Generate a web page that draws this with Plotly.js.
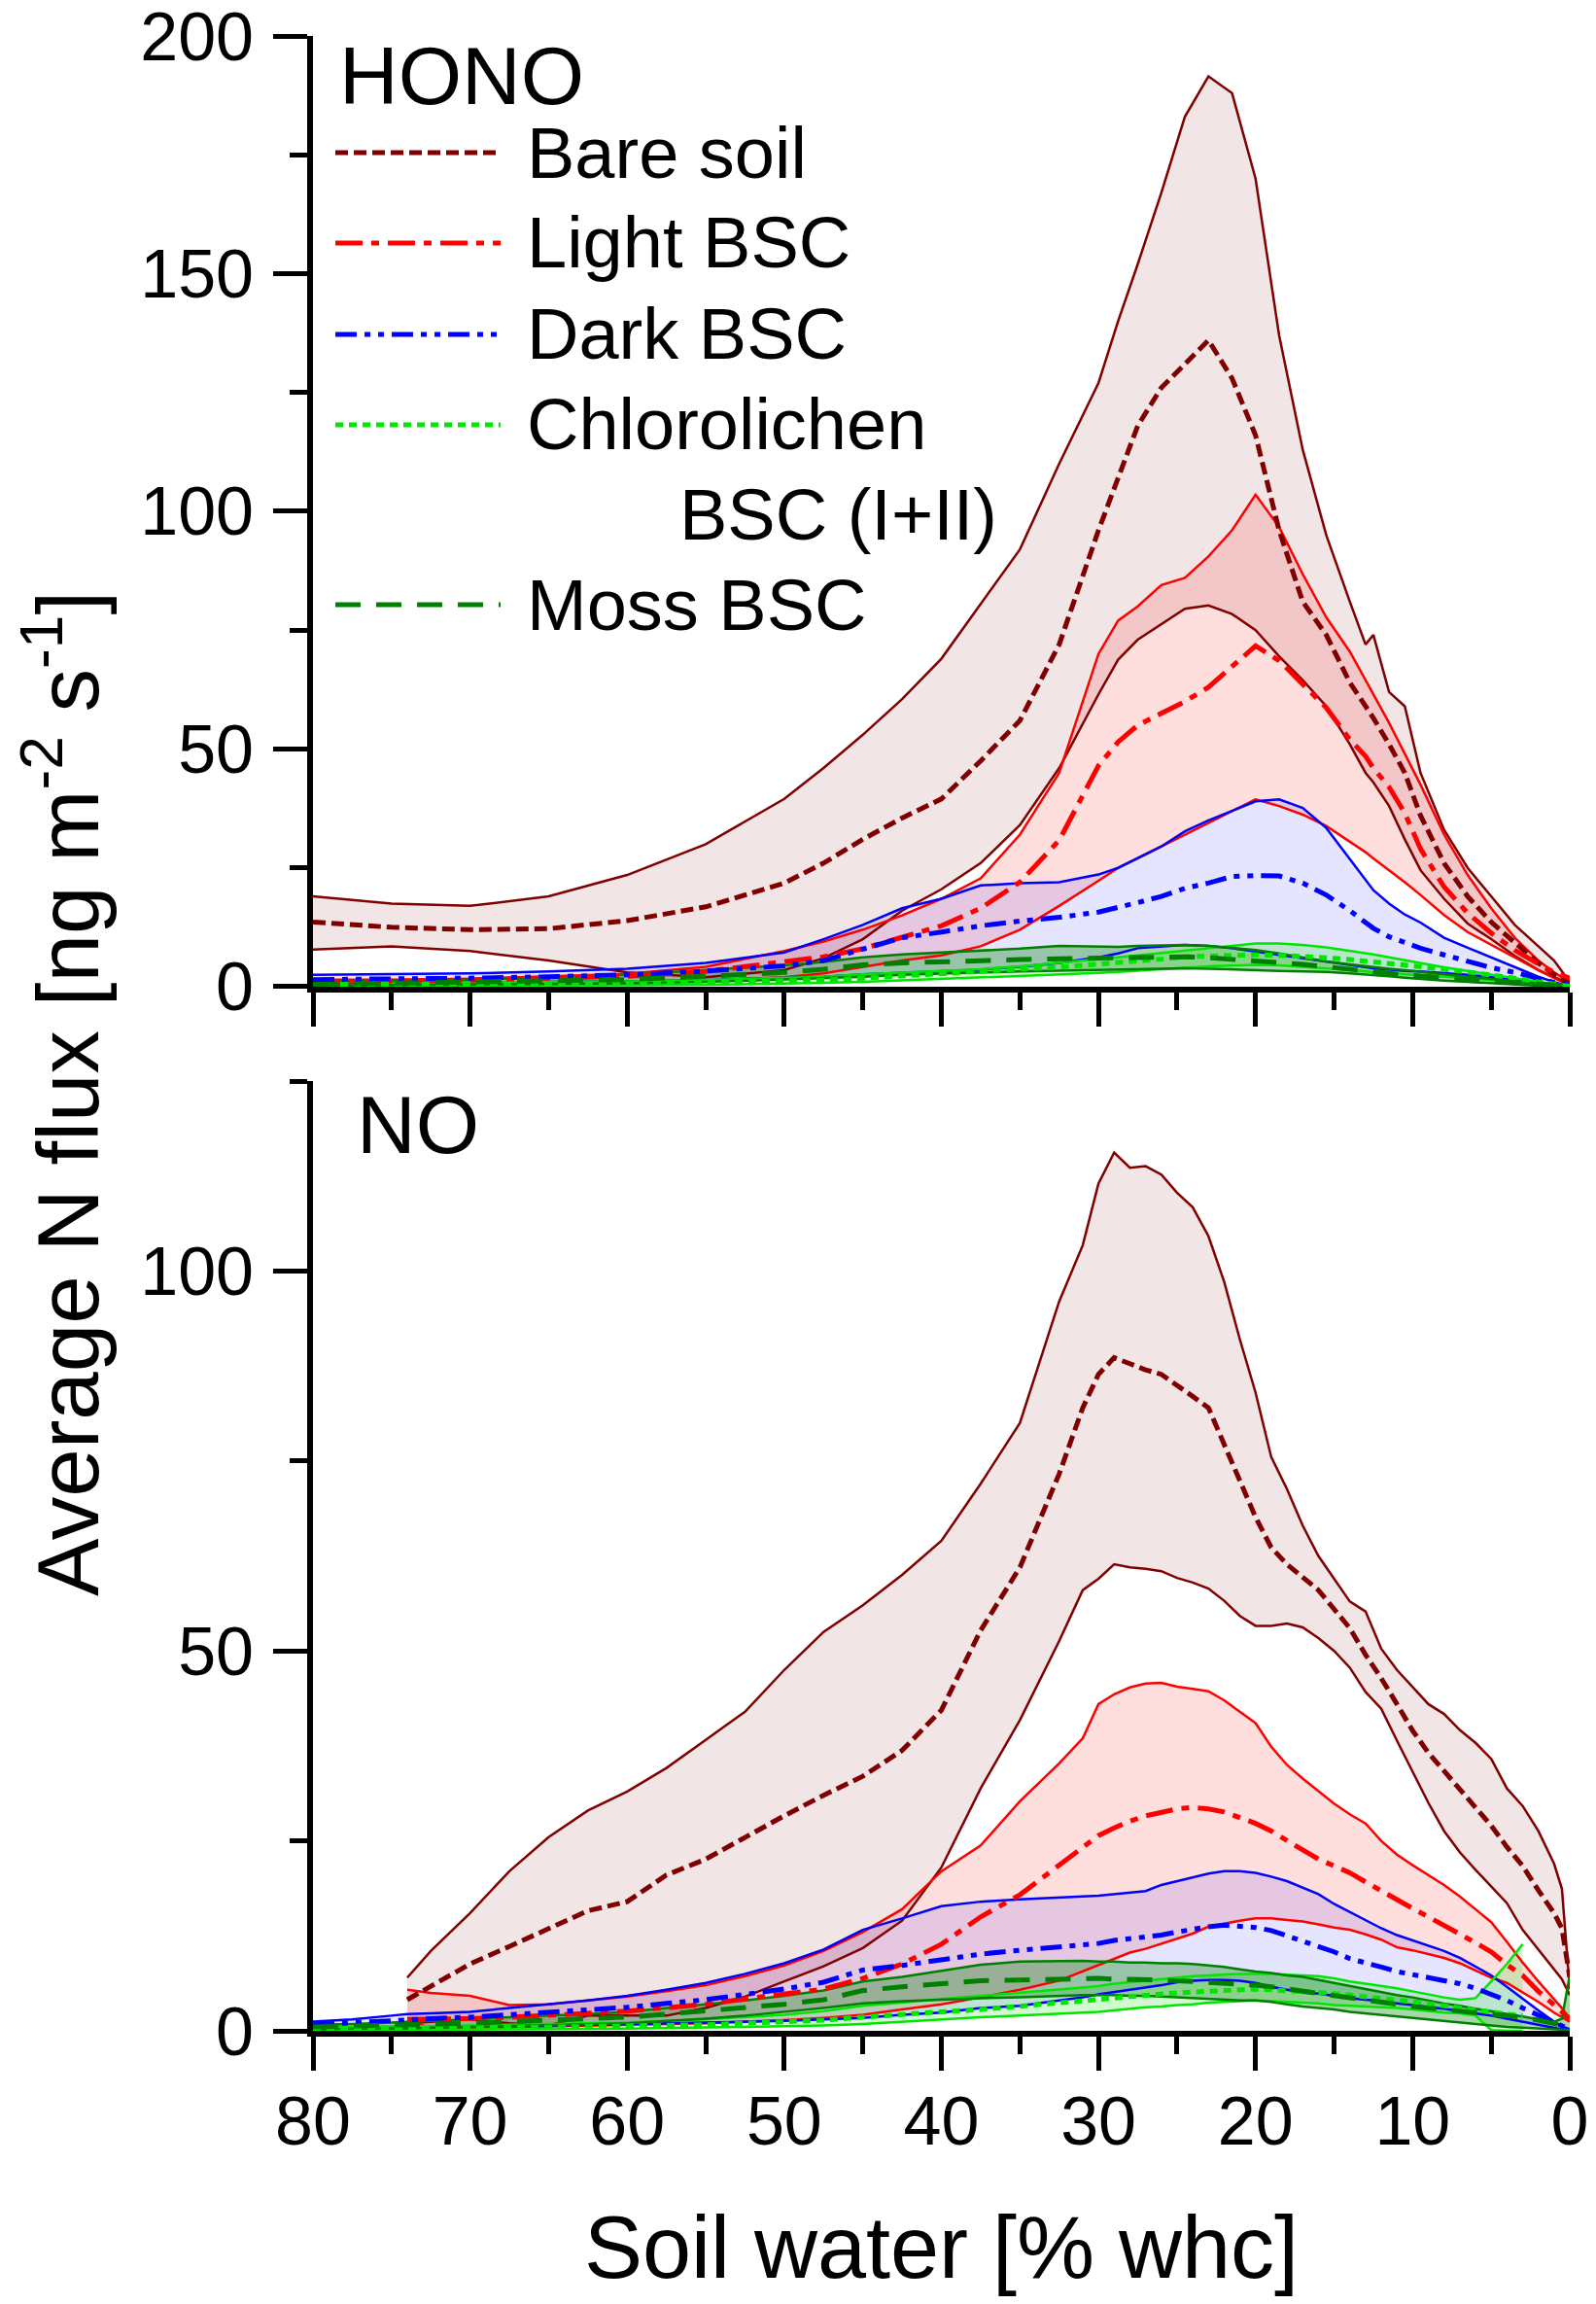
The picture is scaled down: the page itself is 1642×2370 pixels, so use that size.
<!DOCTYPE html>
<html>
<head>
<meta charset="utf-8" />
<title>Average N flux vs soil water</title>
<script src="https://cdn.plot.ly/plotly-3.0.1.min.js"></script>
<style>
  body { margin: 0; padding: 0; background-color: white; }
  #graphDiv { width: 1642px; height: 2370px; }
</style>
</head>
<body>
<div id="graphDiv"></div>
<script>
  // soil water [% whc]
  const x_hono = [80, 75, 70, 65, 60, 55, 50, 47.5, 45, 42.5,
                  40, 37.5, 35, 32.5, 30, 28.75, 27.5, 26, 24.5, 23,
                  21.5, 20, 18.5, 17, 15.5, 14, 13, 12.5, 11.5, 10.5,
                  9.5, 8, 6.5, 5, 3.5, 2, 1, 0];
  const x_no = [80, 77.5, 75, 74, 72.5, 70, 67.5, 65, 62.5, 60,
                57.5, 55, 52.5, 50, 47.5, 45, 42.5, 40, 37.5, 35,
                32.5, 31, 30, 29, 28, 27, 26, 25, 24, 23,
                22, 21, 20, 19, 18, 17, 16, 15, 14, 13,
                12, 11, 10, 9, 8, 7, 6, 5, 4, 3,
                2, 1, 0.5, 0];

  // HONO flux (ng m-2 s-1): mean, upper and lower bound
  const bare_hono_up = [19, 17.5, 17, 19, 23.5, 30, 39.5, 46, 53, 60.5,
                        69, 80.5, 92, 110, 127, 140, 152, 167, 183, 191.5,
                        188, 170, 137, 113, 95, 81, 72, 74, 62, 59,
                        45, 33, 25, 19, 13, 8.5, 5.5, 1];
  const bare_hono_mean = [13.6, 12.5, 12, 12.2, 13.9, 16.8, 21.8, 26, 31, 35.5,
                          39.5, 47.5, 56, 72, 96, 107, 118, 126, 131, 136,
                          128, 116, 96, 81, 74, 64, 59, 56.5, 51, 45,
                          36, 26, 19, 13.6, 9.3, 5, 2.6, 0.7];
  const bare_hono_lo = [7.8, 8.5, 7.5, 5.5, 3, 2, 3.5, 6, 10, 16,
                        20.5, 26, 34, 46, 61.5, 68.8, 73, 76.3, 79.5, 80.2,
                        78.4, 75, 69.5, 64.5, 59, 51, 45, 43, 38, 31,
                        24.5, 18.5, 13.3, 10, 6.5, 3.5, 2, 0.7];
  const light_hono_up = [1.5, 1.5, 1.7, 2.2, 2.7, 4.2, 7.5, 9.5, 12, 15,
                         18.5, 22.8, 32, 45, 70, 77, 80, 84.5, 86, 90.5,
                         96, 103.5, 96.7, 86.8, 77.7, 70.5, 64.5, 61.5, 55.5, 49,
                         42.5, 32, 23.5, 16.5, 10.3, 5.5, 3, 1];
  const light_hono_mean = [1, 1.1, 1.4, 1.8, 2.2, 3.2, 5.3, 6.3, 8, 10.3,
                           12.8, 16.5, 22, 30.8, 46.5, 51.5, 55, 57.5, 60, 63,
                           67.5, 71.7, 68.6, 63.6, 58.7, 52, 48.5, 46, 42, 36.5,
                           29, 21, 15.5, 11.3, 7.7, 4.8, 3, 1.8];
  const light_hono_lo = [0.5, 0.5, 0.4, 0.6, 0.8, 1.3, 2, 2.8, 4.2, 5.5,
                         6.6, 8.5, 12, 17, 22.3, 25, 27, 29.5, 32, 34.5,
                         37, 39.4, 38, 36.2, 33.8, 30.5, 28.3, 27, 24.5, 22,
                         19.3, 15.1, 11.5, 8.8, 6.2, 3.5, 1.8, 0.3];
  const dark_hono_up = [2.5, 2.6, 2.8, 3.2, 3.8, 5, 7.2, 10, 13, 16.5,
                        18.5, 21.3, 21.8, 22, 23.6, 25, 27, 29.5, 32.7, 35,
                        37, 39, 39.4, 37.6, 33.4, 26.8, 22.5, 20.3, 17.5, 15.2,
                        13.5, 10.3, 8.2, 6.2, 4.2, 2.1, 1, 0];
  const dark_hono_mean = [1.5, 1.6, 1.8, 2.1, 2.5, 3.3, 4.4, 5.5, 8, 10.3,
                          11.5, 12.8, 13.8, 14.6, 15.7, 16.6, 17.7, 19, 20.7, 21.8,
                          23.2, 23.4, 23.3, 21.8, 19.3, 16, 13.5, 12.3, 10.5, 9.2,
                          8.1, 6.7, 5.3, 4, 3, 1.6, 0.9, 0.4];
  const dark_hono_lo = [0.8, 0.8, 0.9, 1, 1.1, 1.4, 1.8, 2.1, 2.6, 2.9,
                        3.2, 3.6, 4.2, 5, 6.2, 7, 8.1, 8.5, 8.8, 8.6,
                        8.1, 7.4, 6.7, 6, 5.3, 4.6, 4.1, 3.9, 3.6, 3.3,
                        3.2, 2.9, 2.5, 2, 1.4, 0.8, 0.5, 0.3];
  const chloro_hono_up = [0.8, 0.8, 0.9, 1, 1.1, 1.4, 1.8, 2.1, 2.6, 3,
                          3.3, 3.7, 4.3, 5, 5.8, 6.2, 6.6, 7.1, 7.7, 8.2,
                          8.7, 9.1, 9.1, 8.8, 8.3, 7.6, 7.1, 6.8, 6.2, 5.6,
                          4.9, 4.1, 3.3, 2.6, 1.8, 1, 0.5, 0.1];
  const chloro_hono_mean = [0.5, 0.5, 0.6, 0.6, 0.7, 0.9, 1.2, 1.4, 1.8, 2.3,
                            2.9, 3.3, 3.7, 4.1, 4.7, 5, 5.4, 5.8, 6.3, 6.5,
                            6.6, 6.7, 6.6, 6.4, 6.1, 5.7, 5.4, 5.3, 5, 4.6,
                            4.2, 3.7, 3.1, 2.5, 1.8, 1, 0.5, 0.1];
  const chloro_hono_lo = [0.2, 0.2, 0.2, 0.3, 0.3, 0.4, 0.6, 0.8, 1, 1.3,
                          1.6, 1.9, 2.2, 2.5, 2.9, 3.1, 3.4, 3.7, 4, 4.3,
                          4.5, 4.6, 4.5, 4.2, 3.9, 3.5, 3.2, 3, 2.8, 2.6,
                          2.5, 2.2, 1.8, 1.4, 1, 0.5, 0.3, 0];
  const moss_hono_up = [1, 1.2, 1.5, 2, 2.5, 3.5, 4.5, 5.2, 6.2, 6.8,
                        7.2, 7.6, 8, 8.6, 8.5, 8.4, 8.6, 8.7, 8.8, 8.6,
                        8.2, 7.7, 7, 6.2, 5.3, 4.7, 4.3, 4.1, 3.8, 3.5,
                        3.2, 2.6, 2.1, 1.6, 1.1, 0.6, 0.3, 0.1];
  const moss_hono_mean = [0.5, 0.7, 0.9, 1.2, 1.5, 2.2, 3, 3.7, 4.6, 5,
                          5.3, 5.5, 5.7, 5.9, 6, 6.1, 6.2, 6.3, 6.3, 6.1,
                          5.8, 5.5, 5.2, 4.7, 4.2, 3.6, 3.3, 3.1, 2.8, 2.5,
                          2.2, 1.9, 1.6, 1.2, 0.8, 0.5, 0.3, 0.1];
  const moss_hono_lo = [0.2, 0.3, 0.4, 0.5, 0.7, 1, 1.5, 1.8, 2.1, 2.5,
                        2.8, 3, 3.2, 3.4, 3.6, 3.7, 3.8, 3.9, 3.9, 3.8,
                        3.6, 3.4, 3.3, 3.2, 3.1, 2.8, 2.6, 2.4, 2.2, 1.9,
                        1.6, 1.3, 1, 0.7, 0.4, 0.2, 0.1, 0];

  // NO flux (ng m-2 s-1)
  const bare_no_up = [null, null, null, 7, 10.5, 15.5, 21, 25.5, 29, 31.5,
                      34.6, 38.3, 42, 47.5, 52.5, 56, 60, 64.5, 72, 80,
                      96, 103.4, 111.5, 115.6, 113.6, 113.8, 112.7, 110.3, 108.4, 104.6,
                      98.6, 91, 84, 75.5, 71.3, 66.5, 62.5, 59.5, 56.5, 55.2,
                      50.3, 47.5, 45.3, 43, 41.7, 39.6, 37.9, 35.8, 31.9, 29.6,
                      26.3, 22, 18.7, 5.5];
  const bare_no_mean = [null, null, null, 4.1, 5.8, 8.8, 11.1, 13.5, 15.8, 17,
                        20.5, 22.6, 25.5, 28.3, 31, 33.5, 36.9, 42.2, 52.7, 61,
                        73.3, 82, 86.4, 88.6, 87.8, 87, 86.4, 85, 83.5, 82,
                        77.3, 72.5, 67.6, 63.6, 61.4, 59.7, 58, 55.5, 53, 49.5,
                        46.4, 43, 39.5, 36.6, 34.2, 31.9, 29.4, 27, 24.2, 21.7,
                        18.5, 15.5, 13.5, 7.1];
  const bare_no_lo = [null, null, null, 1, 1.2, 1.5, 1, 0.7, 2, 2,
                      2, 3, 4.5, 6.5, 8.5, 10.9, 14.5, 21.5, 31.9, 40.9,
                      51.3, 58, 59.5, 61.4, 61, 60.8, 60.5, 59.6, 59, 58.2,
                      56.6, 54.6, 53.3, 53.3, 53.6, 53.1, 51.7, 50, 47.8, 44.6,
                      42.4, 38.2, 34.2, 30, 26.3, 23.5, 21.2, 19, 16.8, 13.3,
                      10.7, 8, 6.8, 4.7];
  const light_no_up = [null, null, null, 5.4, 5, 4.6, 3.4, 3.5, 4, 4.5,
                       5.2, 6, 7.2, 8.6, 10.5, 13, 16, 21, 24.4, 30.2,
                       35.2, 38.5, 43, 44.3, 45.2, 45.7, 45.8, 45.3, 45, 44.7,
                       43.5, 42, 40.5, 37.4, 35, 33.2, 31.6, 29.9, 28.5, 27.3,
                       25, 23.2, 21.8, 20.5, 19.2, 17.7, 16, 14.3, 11.7, 9,
                       6.5, 4.2, 3, 1.6];
  const light_no_mean = [null, null, null, 1.5, 1.5, 1.6, 1.8, 2, 2.3, 2.6,
                         3, 3.5, 4.2, 4.8, 5.5, 6.9, 8.8, 11.4, 15, 17.9,
                         21.8, 24, 25.7, 26.7, 27.6, 28.3, 28.8, 29.2, 29.4, 29.2,
                         28.8, 28, 27.3, 26.3, 25, 23.8, 22.6, 21.7, 20.8, 19.6,
                         18.4, 17.2, 16.1, 15, 13.9, 12.8, 11.6, 10.4, 8.7, 7.3,
                         5.2, 3.4, 2.4, 1.6];
  const light_no_lo = [null, null, null, 1.5, 0.3, 0.4, 0.5, 0.6, 0.7, 0.8,
                       0.9, 1, 1.2, 1.4, 1.7, 2.1, 2.8, 3.5, 4.4, 5.4,
                       6.6, 7.8, 8.6, 9.5, 10.3, 10.8, 11.5, 12.1, 12.8, 13.7,
                       14.1, 14.5, 14.8, 14.8, 14.6, 14.4, 14, 13.6, 13.3, 12.7,
                       12, 11, 10.6, 10.1, 9.6, 8.9, 8, 7, 6.3, 5.1,
                       3.8, 2.4, 1.8, 1.2];
  const dark_no_up = [1.2, 1.5, 2, 2.2, 2.3, 2.5, 3, 3.5, 4, 4.6,
                      5.4, 6.3, 7.5, 8.9, 10.7, 13.3, 14.8, 16.4, 17, 17.3,
                      17.6, 17.7, 17.8, 18, 18.2, 18.4, 19.2, 19.7, 20.2, 20.7,
                      21, 21, 20.8, 20.3, 19.7, 18.8, 18, 16.7, 15.6, 14.5,
                      13.5, 12.6, 11.9, 11.2, 10.5, 9.6, 8.5, 7.3, 5.8, 4.2,
                      2.7, 1.2, 0.6, 0.2];
  const dark_no_mean = [0.8, 1.1, 1.4, 1.5, 1.6, 1.8, 2.1, 2.4, 2.8, 3.1,
                        3.6, 4.1, 4.8, 5.5, 6.4, 8, 8.6, 9.4, 10.1, 10.6,
                        11, 11.2, 11.5, 11.9, 12.1, 12.4, 12.6, 13, 13.4, 13.7,
                        13.9, 13.8, 13.6, 13.2, 12.5, 11.7, 11, 10.4, 9.5, 9,
                        8.4, 7.8, 7.4, 7, 6.7, 6.2, 5.6, 4.8, 4, 3,
                        2.1, 1.2, 0.6, 0.2];
  const dark_no_lo = [0.3, 0.35, 0.4, 0.4, 0.45, 0.5, 0.6, 0.7, 0.8, 0.9,
                      1, 1.1, 1.2, 1.3, 1.5, 1.7, 2.1, 2.4, 3, 3.3,
                      4, 4.4, 4.8, 5.1, 5.4, 5.7, 6, 6.4, 6.6, 6.7,
                      6.7, 6.6, 6.3, 5.8, 5.4, 5.1, 4.9, 4.6, 4.3, 4.1,
                      3.9, 3.6, 3.4, 3.1, 2.9, 2.6, 2.3, 2, 1.6, 1.2,
                      0.8, 0.4, 0.2, 0.1];
  const chloro_no_up = [0.5, 0.5, 0.6, 0.6, 0.6, 0.7, 0.8, 0.9, 1, 1.1,
                        1.3, 1.5, 1.8, 2.1, 2.6, 3.3, 3.7, 4.2, 4.6, 5,
                        5.4, 5.7, 5.9, 6.2, 6.4, 6.6, 6.8, 7, 7.2, 7.3,
                        7.4, 7.5, 7.5, 7.5, 7.4, 7.3, 7.2, 6.9, 6.5, 6.2,
                        5.9, 5.6, 5.2, 4.8, 4.4, 4.1, 4.3, 6.5, 8.8, 11.4,
                        null, null, null, null];
  const chloro_no_mean = [0.3, 0.3, 0.3, 0.3, 0.35, 0.4, 0.45, 0.5, 0.55, 0.6,
                          0.7, 0.8, 1, 1.2, 1.4, 1.8, 2.2, 2.5, 2.8, 3.2,
                          3.6, 3.9, 4.1, 4.3, 4.5, 4.7, 4.9, 5, 5.1, 5.2,
                          5.3, 5.4, 5.5, 5.4, 5.3, 5.2, 5.1, 4.9, 4.7, 4.5,
                          4.3, 4, 3.8, 3.6, 3.3, 3, 2.8, 2.5, 2.2, 2,
                          null, null, null, null];
  const chloro_no_lo = [0.1, 0.1, 0.1, 0.1, 0.1, 0.15, 0.2, 0.2, 0.25, 0.3,
                        0.35, 0.4, 0.5, 0.6, 0.7, 0.9, 1.2, 1.5, 1.8, 2,
                        2.3, 2.4, 2.5, 2.7, 2.9, 3.1, 3.2, 3.4, 3.5, 3.7,
                        3.8, 3.9, 4, 3.9, 3.8, 3.7, 3.6, 3.4, 3.3, 3.2,
                        3.1, 3, 2.8, 2.6, 2.4, 2.3, 2, 0.1, 0, 0,
                        null, null, null, null];
  const moss_no_up = [0.8, 0.9, 1.1, 1.2, 1.3, 1.5, 1.8, 2, 2.2, 2.5,
                      3, 3.5, 4, 4.6, 5.3, 6.5, 7.1, 7.9, 8.7, 9.1,
                      9.2, 9.2, 9.1, 9.1, 9, 9, 8.9, 8.9, 8.8, 8.6,
                      8.4, 8.1, 7.8, 7.6, 7.3, 7.1, 6.7, 6.3, 5.9, 5.5,
                      5.1, 4.7, 4.4, 4, 3.6, 3.3, 2.9, 2.6, 2.2, 1.9,
                      1.5, 1.2, 1.6, 7.3];
  const moss_no_mean = [0.5, 0.6, 0.7, 0.7, 0.8, 1, 1.2, 1.4, 1.6, 1.8,
                        2.2, 2.6, 3, 3.5, 4.1, 5.3, 5.8, 6.2, 6.6, 6.7,
                        6.8, 6.9, 6.9, 6.8, 6.8, 6.7, 6.7, 6.6, 6.5, 6.4,
                        6.3, 6.2, 6, 5.8, 5.5, 5.2, 4.9, 4.6, 4.3, 4,
                        3.7, 3.4, 3.2, 3, 2.8, 2.6, 2.4, 2.2, 2, 1.8,
                        1.4, 1, 0.7, 0.5];
  const moss_no_lo = [0.2, 0.3, 0.3, 0.3, 0.4, 0.5, 0.6, 0.7, 0.85, 1,
                      1.3, 1.6, 2, 2.5, 3, 3.6, 3.9, 4.1, 4.3, 4.4,
                      4.6, 4.7, 4.7, 4.7, 4.6, 4.6, 4.5, 4.4, 4.3, 4.2,
                      4.1, 4, 4, 3.8, 3.5, 3.2, 3, 2.8, 2.5, 2.3,
                      2.1, 1.9, 1.7, 1.5, 1.3, 1.1, 0.9, 0.7, 0.5, 0.4,
                      0.3, 0.2, 0.1, 0.1];

  const FONT = "Liberation Sans, Arial, sans-serif";

  const categories = [
    { name: "Bare soil", color: "#800000", fill: "rgba(128,0,0,0.10)", dash: "13px,6px",
      hono: [bare_hono_lo, bare_hono_mean, bare_hono_up], no: [bare_no_lo, bare_no_mean, bare_no_up] },
    { name: "Light BSC", color: "#ff0000", fill: "rgba(255,0,0,0.13)", dash: "28px,9px,8px,9px",
      hono: [light_hono_lo, light_hono_mean, light_hono_up], no: [light_no_lo, light_no_mean, light_no_up] },
    { name: "Dark BSC", color: "#0000ff", fill: "rgba(0,0,255,0.10)", dash: "22px,8px,6px,8px,6px,8px",
      hono: [dark_hono_lo, dark_hono_mean, dark_hono_up], no: [dark_no_lo, dark_no_mean, dark_no_up] },
    { name: "Chlorolichen", color: "#00e600", fill: "rgba(0,230,0,0.18)", dash: "8px,6px",
      hono: [chloro_hono_lo, chloro_hono_mean, chloro_hono_up], no: [chloro_no_lo, chloro_no_mean, chloro_no_up] },
    { name: "Moss BSC", color: "#008000", fill: "rgba(0,128,0,0.33)", dash: "26px,16px",
      hono: [moss_hono_lo, moss_hono_mean, moss_hono_up], no: [moss_no_lo, moss_no_mean, moss_no_up] },
  ];

  const panels = [
    { key: "hono", x: x_hono, xa: "x", ya: "y" },
    { key: "no", x: x_no, xa: "x2", ya: "y2" },
  ];

  function bandTrace(x, lo, hi, fillcolor, xa, ya) {
    const idx = x.map((_, i) => i).filter(i => lo[i] !== null && hi[i] !== null);
    const back = idx.slice().reverse();
    return {
      x: idx.map(i => x[i]).concat(back.map(i => x[i])),
      y: idx.map(i => hi[i]).concat(back.map(i => lo[i])),
      xaxis: xa, yaxis: ya,
      mode: "lines", fill: "toself", fillcolor: fillcolor,
      line: { width: 0 }, hoverinfo: "skip", showlegend: false,
    };
  }

  function lineTrace(x, y, color, width, dash, xa, ya) {
    return {
      x: x, y: y, xaxis: xa, yaxis: ya,
      mode: "lines", line: { color: color, width: width, dash: dash },
      connectgaps: false, hoverinfo: "skip", showlegend: false,
    };
  }

  const traces = [];
  for (const p of panels) {
    for (const c of categories) {
      const [lo, , hi] = c[p.key];
      traces.push(bandTrace(p.x, lo, hi, c.fill, p.xa, p.ya));
    }
  }
  for (const p of panels) {
    for (const c of categories) {
      const [lo, , hi] = c[p.key];
      traces.push(lineTrace(p.x, lo, c.color, 2.5, "solid", p.xa, p.ya));
      traces.push(lineTrace(p.x, hi, c.color, 2.5, "solid", p.xa, p.ya));
    }
  }
  for (const p of panels) {
    for (const c of categories) {
      traces.push(lineTrace(p.x, c[p.key][1], c.color, 5, c.dash, p.xa, p.ya));
    }
  }

  const tickStyle = {
    ticks: "outside", ticklen: 35, tickwidth: 5, tickcolor: "black",
    showline: true, linewidth: 6, linecolor: "black",
    showgrid: false, zeroline: false, ticklabeloverflow: "allow",
    tickfont: { family: FONT, size: 70, color: "black" },
  };
  const minorStyle = { ticks: "outside", ticklen: 18, tickwidth: 5, tickcolor: "black", showgrid: false };

  const layout = {
    width: 1642, height: 2370,
    paper_bgcolor: "white", plot_bgcolor: "white",
    showlegend: false,
    margin: { l: 322, r: 27, t: 37, b: 281 },
    font: { family: FONT, color: "black" },
    xaxis: Object.assign({}, tickStyle, {
      domain: [0, 1], range: [80, 0], anchor: "y", dtick: 10, tick0: 0,
      showticklabels: false, minor: Object.assign({ dtick: 5 }, minorStyle),
    }),
    yaxis: Object.assign({}, tickStyle, {
      domain: [0.5234, 1], range: [0, 200], anchor: "x", dtick: 50, tick0: 0,
      minor: Object.assign({ dtick: 25 }, minorStyle), ticklabelstandoff: 6,
    }),
    xaxis2: Object.assign({}, tickStyle, {
      domain: [0, 1], range: [80, 0], anchor: "y2", dtick: 10, tick0: 0,
      minor: Object.assign({ dtick: 5 }, minorStyle), ticklabelstandoff: -8,
      title: { text: "Soil water [% whc]", font: { family: FONT, size: 90, color: "black" }, standoff: 62 },
    }),
    yaxis2: Object.assign({}, tickStyle, {
      domain: [0, 0.4761], range: [0, 125], anchor: "x2", dtick: 50, tick0: 0,
      minor: Object.assign({ dtick: 25 }, minorStyle), ticklabelstandoff: 6,
    }),
    annotations: [],
    shapes: [],
  };

  // y title spanning both panels
  layout.annotations.push({
    xref: "paper", yref: "paper", x: -0.1995, y: 0.4698,
    xanchor: "center", yanchor: "middle", textangle: -90, showarrow: false,
    text: "Average N flux [ng m<sup>-2</sup> s<sup>-1</sup>]",
    font: { family: FONT, size: 89, color: "black" },
  });
  // panel labels
  layout.annotations.push({
    xref: "paper", yref: "paper", x: 0.0193, y: 0.980, xanchor: "left", yanchor: "middle",
    showarrow: false, text: "HONO", font: { family: FONT, size: 84, color: "black" },
  });
  layout.annotations.push({
    xref: "paper", yref: "paper", x: 0.0333, y: 0.4542, xanchor: "left", yanchor: "middle",
    showarrow: false, text: "NO", font: { family: FONT, size: 84, color: "black" },
  });

  // legend drawn inside the HONO panel
  const legendRows = [0.9415, 0.8962, 0.8504, 0.8051, 0.7149];
  categories.forEach((c, i) => {
    const y = legendRows[i];
    layout.shapes.push({
      type: "line", xref: "paper", yref: "paper",
      x0: 0.0178, x1: 0.1493, y0: y, y1: y,
      line: { color: c.color, width: 5, dash: c.dash },
    });
    layout.annotations.push({
      xref: "paper", yref: "paper", x: 0.1686, y: y, xanchor: "left", yanchor: "middle",
      showarrow: false, text: c.name, font: { family: FONT, size: 74, color: "black" },
    });
  });
  layout.annotations.push({
    xref: "paper", yref: "paper", x: 0.29, y: 0.7602, xanchor: "left", yanchor: "middle",
    showarrow: false, text: "BSC (I+II)", font: { family: FONT, size: 74, color: "black" },
  });

  Plotly.newPlot("graphDiv", traces, layout, { staticPlot: true });
</script>
</body>
</html>
